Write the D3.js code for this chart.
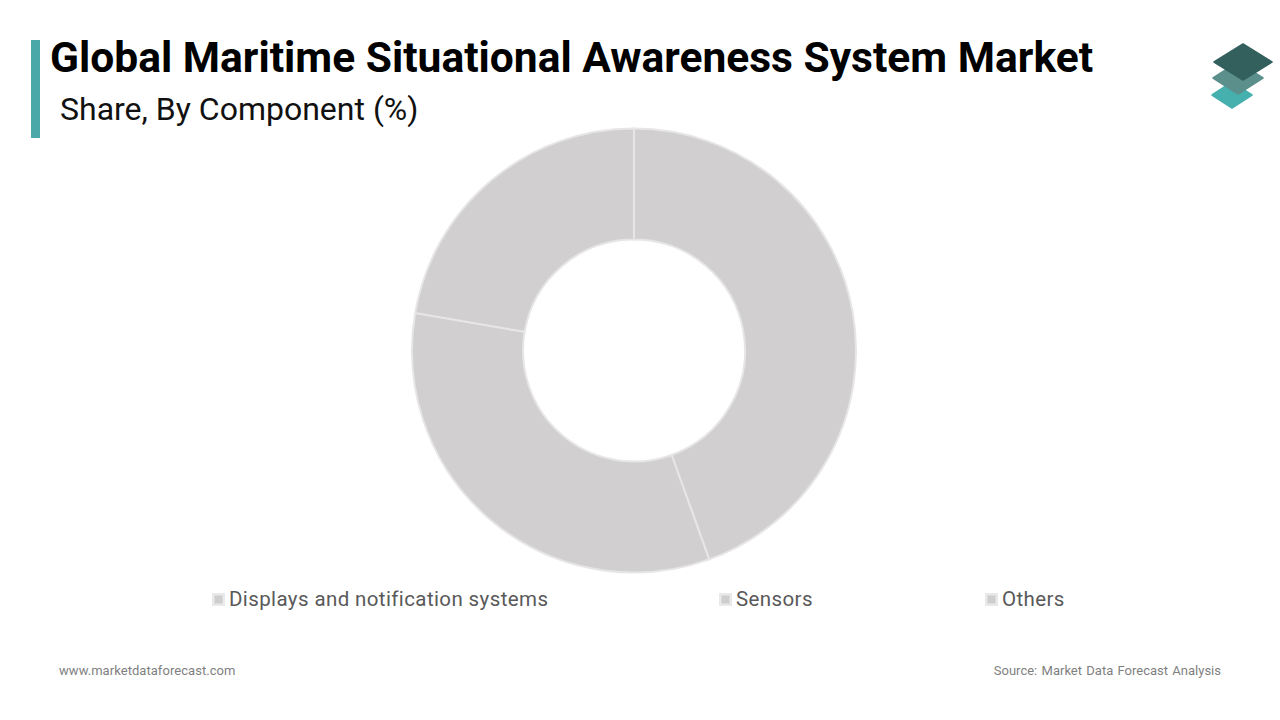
<!DOCTYPE html>
<html>
<head>
<meta charset="utf-8">
<script src="https://cdn.jsdelivr.net/npm/d3@7/dist/d3.min.js"></script>
<style>
  html, body { margin: 0; padding: 0; background: #fff; }
  svg { display: block; font-family: Roboto, sans-serif; }
</style>
</head>
<body>
<svg id="chart" width="1280" height="720"></svg>
<script>
// Market share by component, in percent
const categories = ["Displays and notification systems", "Sensors", "Others"];
const shares = [44.5, 33.2, 22.3];
const legendX = [212, 719, 985];

const svg = d3.select("#chart");

// Heading block
svg.append("rect").attr("x", 31).attr("y", 40).attr("width", 9).attr("height", 98).attr("fill", "#4aa9a8");
svg.append("text").attr("x", 50).attr("y", 71.5).attr("font-size", 42.55).attr("font-weight", 700)
  .attr("fill", "#000").text("Global Maritime Situational Awareness System Market");
svg.append("text").attr("x", 60).attr("y", 120).attr("font-size", 32).attr("fill", "#111")
  .text("Share, By Component (%)");

// Stacked-layers logo, drawn bottom sheet first
const logo = svg.append("g");
[
  { cx: 1232, cy: 95, rx: 20, ry: 13, fill: "#45b0ae" },
  { cx: 1238, cy: 78, rx: 25, ry: 16, fill: "#5a8f8c" },
  { cx: 1243, cy: 62, rx: 29, ry: 18, fill: "#33605d" }
].forEach(s => {
  logo.append("path")
    .attr("d", d3.line()([[s.cx, s.cy - s.ry], [s.cx + s.rx, s.cy], [s.cx, s.cy + s.ry], [s.cx - s.rx, s.cy]]) + "Z")
    .attr("fill", s.fill)
    .attr("stroke", s.fill)
    .attr("stroke-width", 1.5)
    .attr("stroke-linejoin", "round");
});

// Donut
const pie = d3.pie().sort(null).value(d => d);
const arc = d3.arc().innerRadius(111).outerRadius(222);
svg.append("g").attr("transform", "translate(634,350.5)")
  .selectAll("path")
  .data(pie(shares))
  .join("path")
  .attr("d", arc)
  .attr("fill", "#d1cfd0")
  .attr("stroke", "#e6e6e6")
  .attr("stroke-width", 2);

// Legend
const legend = svg.append("g").selectAll("g")
  .data(categories)
  .join("g")
  .attr("transform", (d, i) => `translate(${legendX[i]},0)`);
legend.append("rect").attr("x", 0).attr("y", 593).attr("width", 13).attr("height", 13).attr("fill", "#e9e9e9");
legend.append("rect").attr("x", 2.5).attr("y", 595.5).attr("width", 8).attr("height", 8).attr("fill", "#cfcdce");
legend.append("text").attr("x", 17).attr("y", 606).attr("font-size", 20.5).attr("letter-spacing", 0.39)
  .attr("fill", "#595959").text(d => d);

// Footer
svg.append("text").attr("x", 59).attr("y", 675).attr("font-size", 13).attr("letter-spacing", 0.05)
  .attr("fill", "#7f7f7f").text("www.marketdataforecast.com");
svg.append("text").attr("x", 1221).attr("y", 675).attr("font-size", 13).attr("text-anchor", "end")
  .attr("word-spacing", 1.1).attr("fill", "#7f7f7f").text("Source: Market Data Forecast Analysis");
</script>
</body>
</html>
